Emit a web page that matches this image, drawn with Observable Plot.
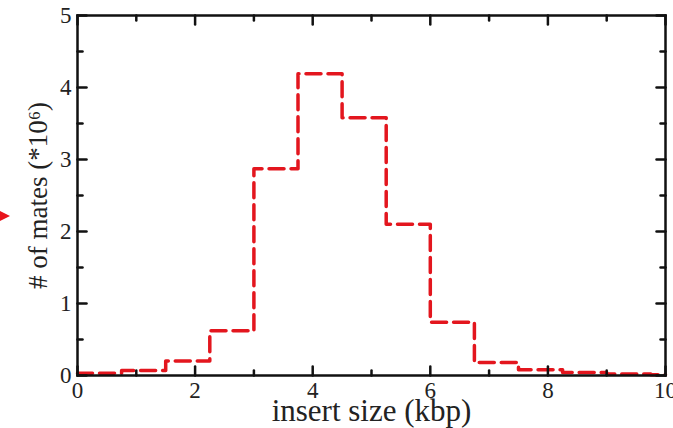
<!DOCTYPE html>
<html>
<head>
<meta charset="utf-8">
<script src="https://cdn.jsdelivr.net/npm/d3@7"></script>
<script src="https://cdn.jsdelivr.net/npm/@observablehq/plot@0.6"></script>
<style>
  html, body { margin: 0; padding: 0; background: #fff; }
  #wrap { position: relative; width: 673px; height: 428px; }
  #wrap svg text { font-family: 'Liberation Serif', 'Times New Roman', serif !important; }
  #arrow { position: absolute; left: 0; top: 211px; width: 0; height: 0;
    border-top: 5px solid transparent; border-bottom: 5px solid transparent; border-left: 10px solid #e8141c; }
</style>
</head>
<body>
<div id="wrap"><div id="arrow"></div></div>
<script>
// bin left edges (kbp) and counts (millions of mates)
const binStarts = [0, 0.75, 1.5, 2.25, 3, 3.75, 4.5, 5.25, 6, 6.75, 7.5, 8.25, 9, 9.75];
const binCounts = [0.03, 0.07, 0.2, 0.62, 2.87, 4.19, 3.58, 2.1, 0.74, 0.18, 0.08, 0.04, 0.02, 0.01];
const xEnd = 10;
const xMajorTicks = [0, 2, 4, 6, 8, 10];
const xMinorTicks = [1, 3, 5, 7, 9];
const yMajorTicks = [0, 1, 2, 3, 4, 5];
const yMinorTicks = [0.5, 1.5, 2.5, 3.5, 4.5];
const xLabel = "insert size (kbp)";
const yLabel = "# of mates (*10⁶)";

const steps = binStarts.map((x, i) => ({x, y: binCounts[i]}));
steps.push({x: xEnd, y: binCounts[binCounts.length - 1]});

const font = "'Liberation Serif', 'Times New Roman', serif";
const line = {draw(ctx, l) { ctx.moveTo(0, 0); ctx.lineTo(0, -l); }};
const tickStyle = {stroke: "#111", strokeWidth: 2.5, shape: line, anchor: "start"};
const xt = (ticks, len, side) => Plot.vector(ticks, {x: d => d, frameAnchor: side, length: len, rotate: side === "bottom" ? 0 : 180, ...tickStyle});
const yt = (ticks, len, side) => Plot.vector(ticks, {y: d => d, frameAnchor: side, length: len, rotate: side === "left" ? 90 : -90, ...tickStyle});

const chart = Plot.plot({
  width: 673,
  height: 428,
  marginLeft: 77,
  marginRight: 8,
  marginTop: 15,
  marginBottom: 53,
  style: {fontFamily: font, fontSize: "23px", color: "#222", background: "transparent"},
  x: {domain: [0, 10]},
  y: {domain: [0, 5]},
  length: {type: "identity"},
  marks: [
    Plot.line(steps, {x: "x", y: "y", curve: "step-after", stroke: "#e3161e", strokeWidth: 3.5, strokeDasharray: "15,7"}),
    Plot.axisX(xMajorTicks, {anchor: "bottom", tickSize: 0, tickPadding: 6, tickFormat: d3.format("d"), label: null, fontSize: 23}),
    Plot.axisY(yMajorTicks, {anchor: "left", tickSize: 0, tickPadding: 6, tickFormat: d3.format("d"), label: null, fontSize: 23}),
    Plot.text([xLabel], {text: d => d, frameAnchor: "bottom", textAnchor: "middle", lineAnchor: "middle", dy: 36, fontSize: 31, fill: "#222"}),
    Plot.text([yLabel], {text: d => d, frameAnchor: "left", textAnchor: "middle", lineAnchor: "middle", dx: -39, rotate: -90, fontSize: 27, fill: "#222"}),
    xt(xMajorTicks, 9, "bottom"), xt(xMinorTicks, 5, "bottom"),
    xt(xMajorTicks, 9, "top"), xt(xMinorTicks, 5, "top"),
    yt(yMajorTicks, 9, "left"), yt(yMinorTicks, 5, "left"),
    yt(yMajorTicks, 9, "right"), yt(yMinorTicks, 5, "right"),
    Plot.frame({stroke: "#111", strokeWidth: 2.5})
  ]
});
document.getElementById("wrap").appendChild(chart);
</script>
</body>
</html>
